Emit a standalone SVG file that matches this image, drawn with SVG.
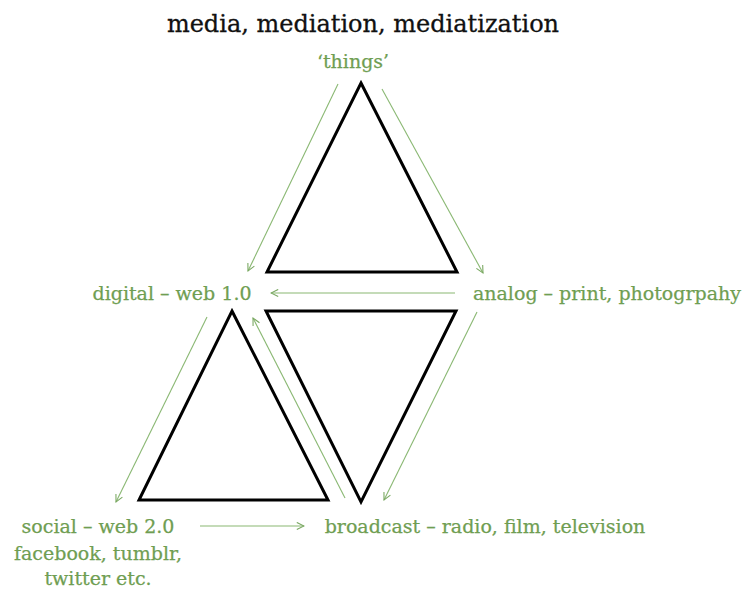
<svg xmlns="http://www.w3.org/2000/svg" width="747" height="589" viewBox="0 0 747 589">
<defs>
<marker id="ah" viewBox="0 0 10 10" refX="9" refY="5" markerWidth="9" markerHeight="9" markerUnits="userSpaceOnUse" orient="auto">
<path d="M1,1 L9,5 L1,9" fill="none" stroke="#7aa862" stroke-width="1.2"/>
</marker>
<style>
.tri{fill:#fff;stroke:#000;stroke-width:3;stroke-linejoin:miter}
.lbl{font-family:"DejaVu Serif","Liberation Serif",serif;font-size:19px;fill:#6f9e52;stroke:#6f9e52;stroke-width:0.25}
.con{fill:none;stroke:#8ab873;stroke-width:1.1;marker-end:url(#ah)}
</style>
</defs>
<rect width="747" height="589" fill="#fff"/>
<text x="363" y="32" text-anchor="middle" style="font-family:'DejaVu Serif','Liberation Serif',serif;font-size:24px;fill:#111;stroke:#111;stroke-width:0.3">media, mediation, mediatization</text>
<g id="tri-top"><polygon class="tri" points="361,83 457,272 267,272"/></g>
<g id="tri-left"><polygon class="tri" points="232,311 328,500 139,500"/></g>
<g id="tri-inv"><polygon class="tri" points="266,311 456,311 361,502"/></g>
<g id="things"><text class="lbl" x="353" y="68" text-anchor="middle">‘things’</text></g>
<g id="digital"><text class="lbl" x="172" y="300" text-anchor="middle">digital – web 1.0</text></g>
<g id="analog"><text class="lbl" x="607" y="300" text-anchor="middle">analog – print, photogrpahy</text></g>
<g id="social"><text class="lbl" x="98" y="533" text-anchor="middle">social – web 2.0</text><text class="lbl" x="98" y="560" text-anchor="middle">facebook, tumblr,</text><text class="lbl" x="98" y="585" text-anchor="middle">twitter etc.</text></g>
<g id="broadcast"><text class="lbl" x="485" y="533" text-anchor="middle">broadcast – radio, film, television</text></g>
<g id="connectors">
<line class="con" x1="338" y1="84" x2="248" y2="271"/>
<line class="con" x1="382" y1="89" x2="483" y2="273"/>
<line class="con" x1="455" y1="293" x2="271" y2="293"/>
<line class="con" x1="477" y1="312" x2="384" y2="500"/>
<line class="con" x1="207" y1="317" x2="116" y2="502"/>
<line class="con" x1="345" y1="498" x2="253" y2="318"/>
<line class="con" x1="200" y1="526" x2="304" y2="526"/>
</g>
</svg>
